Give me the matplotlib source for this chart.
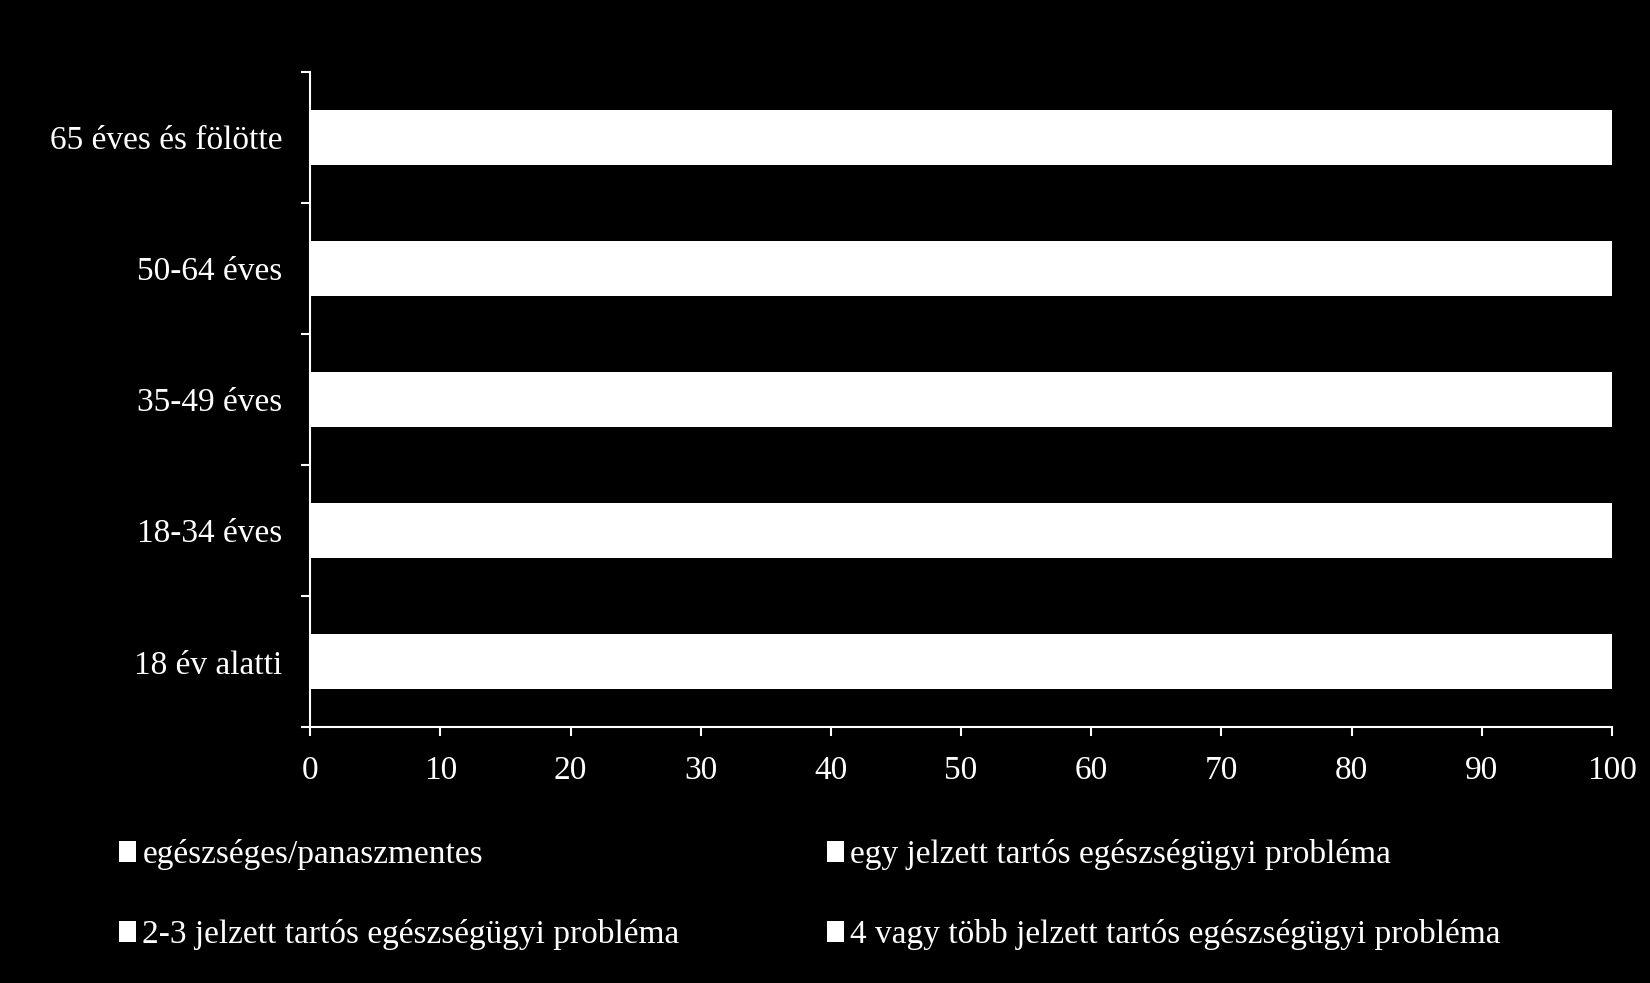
import matplotlib
matplotlib.use("Agg")
import matplotlib.pyplot as plt
import numpy as np

categories = ["18 év alatti", "18-34 éves", "35-49 éves", "50-64 éves", "65 éves és fölötte"]
series_names = [
    "egészséges/panaszmentes",
    "egy jelzett tartós egészségügyi probléma",
    "2-3 jelzett tartós egészségügyi probléma",
    "4 vagy több jelzett tartós egészségügyi probléma",
]
# segment boundaries are not visible in the reference (all white); estimated shares
healthy = [80, 60, 40, 20, 8]
one_problem = [15, 25, 28, 25, 17]
two_three = [4, 12, 22, 32, 35]
four_plus = [1, 3, 10, 23, 40]
x_ticks = [0, 10, 20, 30, 40, 50, 60, 70, 80, 90, 100]

plt.rcParams['font.family'] = ['Liberation Serif', 'DejaVu Serif']

fig = plt.figure(figsize=(16.5, 9.83), dpi=100, facecolor='black')
ax = fig.add_axes([0.188, 0.260, 0.789, 0.667], facecolor='black')

y = np.arange(len(categories))
left = np.zeros(len(categories))
handles = []
for name, vals in zip(series_names, [healthy, one_problem, two_three, four_plus]):
    b = ax.barh(y, vals, left=left, height=0.42, color='white', edgecolor='none', label=name)
    handles.append(b)
    left += np.array(vals)

ax.set_xlim(0, 100)
ax.set_ylim(-0.5, len(categories) - 0.5)
ax.set_xticks(x_ticks)
ax.set_xticklabels([str(t) for t in x_ticks])
ax.set_yticks(y)
ax.set_yticklabels(categories)
ax.set_yticks(np.arange(-0.5, len(categories), 1.0), minor=True)

for s in ['top', 'right']:
    ax.spines[s].set_visible(False)
for s in ['left', 'bottom']:
    ax.spines[s].set_color('white')
    ax.spines[s].set_linewidth(1.5)

ax.tick_params(axis='x', colors='white', labelsize=24, length=6.5, width=1.5, pad=14, direction='out')
ax.tick_params(axis='y', which='major', colors='white', labelsize=24, length=0, pad=20)
ax.tick_params(axis='y', which='minor', colors='white', length=6.5, width=1.5, direction='out')

order = [0, 2, 1, 3]
leg = fig.legend([handles[i] for i in order], [series_names[i] for i in order],
                 loc='upper left', bbox_to_anchor=(0.054, 0.177), ncol=2,
                 frameon=False, fontsize=24, labelcolor='white',
                 handlelength=0.5, handleheight=0.6, handletextpad=0.2,
                 columnspacing=4.42, labelspacing=1.47)

fig.savefig("out.png", dpi=100, facecolor='black')
